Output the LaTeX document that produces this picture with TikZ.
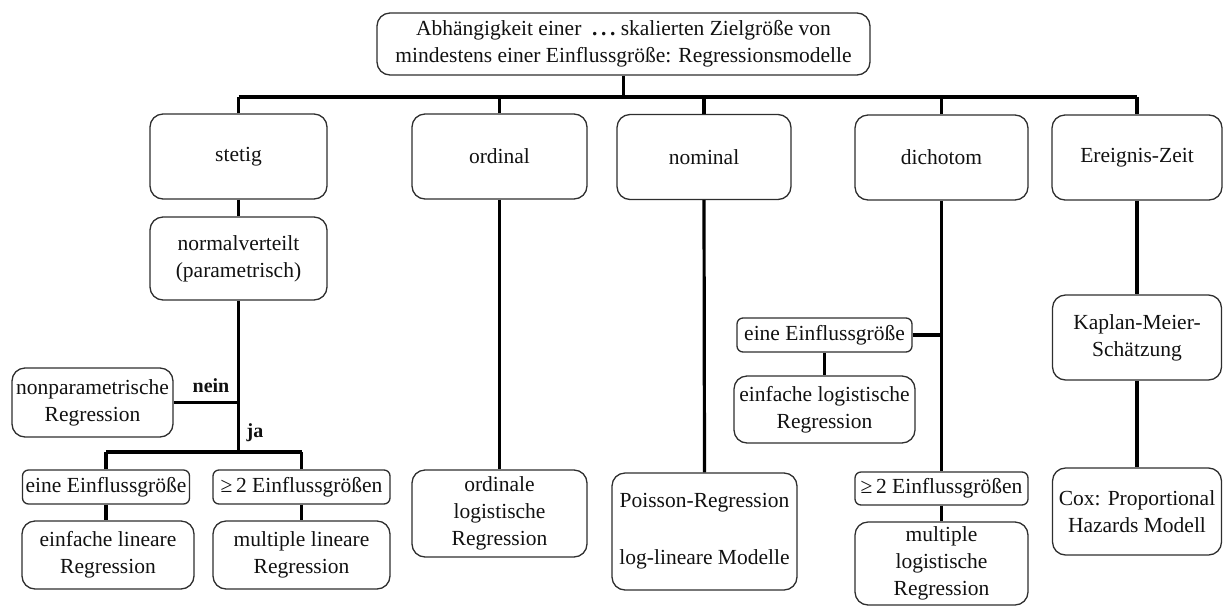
\documentclass[tikz,border=0pt]{standalone}
\usepackage{fontspec}
\setmainfont{Liberation Serif}
\definecolor{boxline}{HTML}{2E2E2E}
\definecolor{txt}{HTML}{111111}
\tikzset{
  box/.style={draw=boxline, line width=1.3pt, rounded corners=13pt, align=center, inner sep=0pt,
    text=txt, font=\fontsize{21.5}{27}\selectfont},
  smallbox/.style={box, rounded corners=6pt},
  conn/.style={line width=3.2pt, black},
  lbl/.style={font=\fontsize{20}{24}\selectfont\bfseries, text=txt, inner sep=0pt}
}
\begin{document}
\begin{tikzpicture}[x=1pt,y=-1pt]
\useasboundingbox (0,0) rectangle (1223,606);
% top
\node[box, minimum width=493pt, minimum height=62pt] (top) at (623.5,44)
  {Abhängigkeit einer\ \ {\bfseries .\,.\,.}\ skalierten Zielgröße von\\mindestens einer Einflussgröße: Regressionsmodelle};
% level 2
\node[box, minimum width=177pt, minimum height=85pt] (stetig) at (238.5,156.5) {stetig};
\node[box, minimum width=175pt, minimum height=85pt] (ordinal) at (499.5,156.5) {ordinal};
\node[box, minimum width=174pt, minimum height=85pt] (nominal) at (704,157) {nominal};
\node[box, minimum width=173pt, minimum height=85pt] (dichotom) at (941.5,157.5) {dichotom};
\node[box, minimum width=170pt, minimum height=85pt] (ereignis) at (1137,157.5) {Ereignis-Zeit};
% stetig branch
\node[box, minimum width=177pt, minimum height=83pt] (normal) at (238.5,258.5) {normalverteilt\\(parametrisch)};
\node[box, minimum width=161pt, minimum height=69pt] (nonpar) at (92.5,402.5) {nonparametrische\\Regression};
\node[smallbox, minimum width=167pt, minimum height=34pt] (einea) at (106,487) {eine Einflussgröße};
\node[smallbox, minimum width=177pt, minimum height=34pt] (gea) at (301.5,487) {≥\,2 Einflussgrößen};
\node[box, minimum width=172pt, minimum height=68pt] (einlin) at (108,555) {einfache lineare\\Regression};
\node[box, minimum width=177pt, minimum height=68pt] (multlin) at (301.5,555) {multiple lineare\\Regression};
% ordinal
\node[box, minimum width=175pt, minimum height=87pt] (ordlog) at (499.5,513.5) {ordinale\\logistische\\Regression};
% nominal
\node[box, minimum width=185pt, minimum height=117pt] (poisson) at (704.5,531.5) {Poisson-Regression\\[30pt]log-lineare Modelle};
% dichotom
\node[smallbox, minimum width=175pt, minimum height=34pt] (eineb) at (824.5,335) {eine Einflussgröße};
\node[box, minimum width=181pt, minimum height=67pt] (einlog) at (824.5,409.5) {einfache logistische\\Regression};
\node[smallbox, minimum width=173pt, minimum height=33pt] (geb) at (941.5,488.5) {≥\,2 Einflussgrößen};
\node[box, minimum width=173pt, minimum height=83pt] (multlog) at (941.5,563.5) {multiple\\logistische\\Regression};
% Ereignis-Zeit
\node[box, minimum width=169pt, minimum height=85pt] (km) at (1137,337.5) {Kaplan-Meier-\\Schätzung};
\node[box, minimum width=169pt, minimum height=87pt] (cox) at (1137,511.5) {Cox: Proportional\\Hazards Modell};
% connectors
\coordinate (barL) at (238.5,97);
\coordinate (barR) at (1137,97);
\draw[conn] (barL) -- (barR);
\draw[conn] (top.south) -- (top.south |- barL);
\foreach \n in {stetig,ordinal,nominal,dichotom,ereignis}
  \draw[conn] (\n.north) -- (\n.north |- barL);
\draw[conn] (stetig.south) -- (normal.north);
\coordinate (ja) at (238.5,452);
\draw[conn] (normal.south) -- (ja);
\draw[conn] (nonpar.east) -- (nonpar.east -| normal.south);
\draw[conn] (einea.north |- ja) -- (gea.north |- ja);
\draw[conn] (einea.north) -- (einea.north |- ja);
\draw[conn] (gea.north) -- (gea.north |- ja);
\draw[conn] (einea.south) -- (einea.south |- einlin.north);
\draw[conn] (gea.south) -- (multlin.north);
\draw[conn] (ordinal.south) -- (ordlog.north);
\draw[conn] (nominal.south) -- (poisson.north);
\draw[conn] (dichotom.south) -- (geb.north);
\draw[conn] (eineb.east) -- (eineb.east -| dichotom.south);
\draw[conn] (eineb.south) -- (einlog.north);
\draw[conn] (geb.south) -- (multlog.north);
\draw[conn] (ereignis.south) -- (km.north);
\draw[conn] (km.south) -- (cox.north);
% labels
\node[lbl] (nein) at (211,386) {nein};
\node[lbl] (jal) at (255,433) {ja};
\end{tikzpicture}
\end{document}
